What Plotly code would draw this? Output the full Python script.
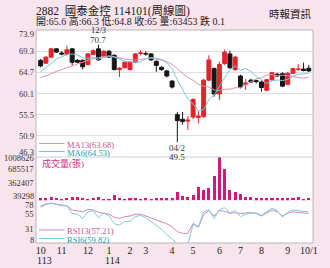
import plotly.graph_objects as go

# ---------------- data ----------------
idx = list(range(52))
opens  = [67.3, 66.7, 68.0, 69.8, 68.9, 68.6, 69.8, 67.3, 67.3, 66.4, 68.6, 69.8, 68.2, 69.3, 68.4, 65.3,
          65.7, 65.3, 66.9, 68.8, 68.8, 68.7, 67.1, 65.8, 65.0, 62.8, 55.5, 54.5, 54.1, 55.0, 54.9, 55.1,
          63.0, 65.5, 60.0, 66.6, 68.7, 65.3, 63.9, 62.1, 63.0, 62.9, 62.6, 60.8, 63.1, 64.3, 64.4, 62.1,
          64.5, 65.3, 65.4, 65.6]
highs  = [67.6, 68.2, 70.0, 70.0, 69.3, 70.5, 70.0, 67.6, 67.5, 68.9, 69.7, 70.7, 69.5, 69.5, 68.6, 65.8,
          67.1, 67.1, 68.9, 69.5, 69.3, 68.9, 67.3, 66.0, 65.2, 63.0, 56.1, 56.1, 55.2, 59.1, 56.3, 63.3,
          68.4, 65.8, 67.0, 69.7, 69.4, 68.3, 64.2, 63.3, 63.3, 63.1, 62.9, 63.3, 64.8, 64.6, 64.7, 64.8,
          65.7, 66.5, 66.8, 66.3]
lows   = [65.8, 66.5, 67.8, 68.9, 68.4, 68.4, 66.2, 66.7, 65.3, 66.2, 68.4, 67.2, 68.0, 67.8, 65.1, 63.7,
          65.5, 65.1, 66.7, 68.4, 68.3, 67.2, 64.8, 65.0, 63.6, 61.2, 49.5, 53.3, 52.2, 54.5, 53.6, 54.8,
          62.8, 59.4, 58.7, 66.3, 65.5, 65.0, 61.2, 60.9, 62.4, 62.3, 60.5, 60.6, 62.9, 63.7, 61.5, 61.9,
          64.3, 65.1, 64.9, 64.8]
closes = [66.1, 68.0, 69.8, 69.1, 68.7, 69.6, 66.9, 66.9, 65.9, 68.7, 69.4, 67.4, 69.3, 68.0, 65.3, 65.6,
          66.9, 66.9, 68.7, 68.9, 68.7, 67.4, 66.2, 65.3, 63.9, 61.5, 54.2, 54.0, 54.3, 58.8, 55.2, 63.0,
          67.4, 60.0, 66.4, 69.1, 65.7, 68.0, 61.5, 62.4, 62.6, 62.7, 61.4, 63.1, 64.6, 63.9, 61.7, 64.5,
          65.5, 65.4, 65.1, 65.0]
volume = [45000, 45000, 70000, 55000, 40000, 55000, 85000, 70000, 55000, 40000, 55000, 85000, 40000,
          39298, 120000, 55000, 40000, 45000, 45000, 42000, 45000, 42000, 45000, 45000, 45000, 45000,
          198000, 99000, 84000, 122000, 312000, 251000, 296000, 555000, 1008626, 730000, 236000, 198000,
          137000, 84000, 84000, 45000, 45000, 45000, 45000, 45000, 45000, 45000, 55000, 70000, 40000, 63453]
ma6  = [64.8, 65.8, 66.8, 67.6, 68.1, 68.55, 68.68, 68.5, 67.85, 67.78, 67.9, 67.53, 67.93, 68.12, 68.02,
        67.5, 67.08, 67.0, 66.9, 67.05, 67.62, 67.92, 67.8, 67.53, 66.73, 65.5, 63.08, 60.85, 58.87, 57.78,
        56.33, 56.58, 58.78, 59.78, 61.8, 63.52, 65.27, 66.1, 65.12, 65.52, 64.88, 63.82, 63.1, 62.28, 62.8,
        63.05, 62.9, 63.2, 63.88, 64.27, 64.35, 64.53]
ma13 = [63.5, 63.9, 64.4, 64.9, 65.3, 65.8, 66.2, 66.6, 66.9, 67.3, 67.7, 67.9, 68.14, 68.28, 68.08, 67.75,
        67.58, 67.45, 67.38, 67.53, 67.67, 67.78, 67.59, 67.28, 67.01, 66.41, 65.35, 64.48, 63.61, 62.98,
        62.08, 61.65, 61.53, 60.86, 60.78, 61.01, 61.04, 61.35, 61.35, 61.98, 62.65, 63.29, 63.49, 64.1,
        64.22, 63.95, 64.08, 63.94, 63.66, 63.64, 63.42, 63.68]
rsi6  = [67.5, 72, 75, 72, 70, 70, 57, 56, 49, 60, 62, 50, 58, 53, 40, 38, 44, 44, 52, 54, 50, 44, 38, 31,
         22, 15, 5, 4, 5, 39, 34, 60, 63, 49, 64, 67, 58, 62, 52, 56, 58, 58, 54, 60, 66, 62, 51, 60, 63,
         62, 61, 59.82]
rsi13 = [69.7, 73, 74, 73, 71.3, 70, 63, 61, 60, 64, 63, 59, 58, 56, 51, 49, 51.8, 53, 56, 56, 53, 50, 47,
         44, 40, 35, 27, 24, 24, 40.7, 35, 55, 62, 53, 62, 61, 57.4, 58.5, 57, 58, 58.5, 57, 53, 58, 63,
         60, 53, 57.4, 60, 59, 58.5, 57.21]

price_ticks = [73.9, 69.3, 64.7, 60.1, 55.5, 50.9, 46.3]
vol_ticks = [1008626, 685517, 362407, 39298]
rsi_ticks = [78, 55, 31, 8]
month_pos = [0, 4, 9, 13, 17, 20, 25, 29, 34, 38, 42, 47, 51]
month_labels = ["10", "11", "12", "1", "2", "3", "4", "5", "6", "7", "8", "9", "10/1"]
year_pos = [0, 13]
year_labels = ["113", "114"]

# ---------------- styling ----------------
W, H = 330, 268
ML, MR, MT, MB = 36, 13, 30, 25
PW, PH = W - ML - MR, H - MT - MB
BOT = MT + PH


def py(ypix):
    return (BOT - ypix) / PH


def px(xpix):
    return (xpix - ML) / PW


SERIF = "Liberation Serif, 'Noto Sans CJK TC', serif"
RED, BLK = "#e3232b", "#161616"
MA13_C, MA6_C = "#e48db5", "#72c7da"
TXT_PINK, TXT_TEAL = "#d24a8c", "#1b9db0"
VOL_C = "#d6177a"
BG = "#f8e4ec"

dom_price = [py(157), 1.0]
dom_vol = [py(200.3), py(157)]
dom_rsi = [0.0, py(201)]
xr = [-0.88, 51.8]

fig = go.Figure()
fig.add_trace(go.Candlestick(
    x=idx, open=opens, high=highs, low=lows, close=closes,
    increasing=dict(fillcolor=RED, line=dict(color=RED, width=1)),
    decreasing=dict(fillcolor=BLK, line=dict(color=BLK, width=1)),
    whiskerwidth=0, xaxis="x", yaxis="y", hoverinfo="skip", showlegend=False))
fig.add_trace(go.Scatter(x=idx, y=ma13, mode="lines", line=dict(color=MA13_C, width=1),
                         xaxis="x", yaxis="y", hoverinfo="skip", showlegend=False))
fig.add_trace(go.Scatter(x=idx, y=ma6, mode="lines", line=dict(color=MA6_C, width=1),
                         xaxis="x", yaxis="y", hoverinfo="skip", showlegend=False))
fig.add_trace(go.Bar(x=idx, y=volume, marker=dict(color=VOL_C, line=dict(width=0)), width=0.58,
                     xaxis="x2", yaxis="y2", hoverinfo="skip", showlegend=False))
fig.add_trace(go.Scatter(x=idx, y=rsi13, mode="lines", line=dict(color="#d983b0", width=1),
                         xaxis="x3", yaxis="y3", hoverinfo="skip", showlegend=False))
fig.add_trace(go.Scatter(x=idx, y=rsi6, mode="lines", line=dict(color="#80cbdc", width=1),
                         xaxis="x3", yaxis="y3", hoverinfo="skip", showlegend=False))

ax_common = dict(range=xr, showgrid=False, zeroline=False, showline=False, fixedrange=True)
fig.update_layout(
    width=W, height=H, margin=dict(l=ML, r=MR, t=MT, b=MB),
    paper_bgcolor=BG, plot_bgcolor="white", showlegend=False,
    boxgap=0.25, boxgroupgap=0, bargap=0,
    font=dict(family=SERIF, size=9, color="#333"),
    xaxis=dict(domain=[0, 1], anchor="y", showticklabels=False, ticks="",
               rangeslider=dict(visible=False), **ax_common),
    xaxis2=dict(domain=[0, 1], anchor="y2", matches="x", showticklabels=False, ticks="", **ax_common),
    xaxis3=dict(domain=[0, 1], anchor="y3", matches="x", tickmode="array", tickvals=month_pos,
                ticktext=month_labels, ticks="", tickfont=dict(family=SERIF, size=10, color="#222"),
                **ax_common),
    yaxis=dict(domain=dom_price, range=[46.3, 73.9], tickmode="array", tickvals=price_ticks,
               showticklabels=False, showgrid=True, gridcolor="#dedede", gridwidth=1,
               zeroline=False, fixedrange=True),
    yaxis2=dict(domain=dom_vol, range=[0, vol_ticks[0]], tickmode="array", tickvals=vol_ticks,
                showticklabels=False, showgrid=False, zeroline=False, fixedrange=True),
    yaxis3=dict(domain=dom_rsi, range=[rsi_ticks[-1], rsi_ticks[0]], tickmode="array",
                tickvals=rsi_ticks, showticklabels=False, showgrid=False, zeroline=False, fixedrange=True),
)

ann = []
shapes = []


def txt(**kw):
    kw.setdefault("showarrow", False)
    kw.setdefault("borderpad", 0)
    ann.append(kw)


# y-axis labels (outer labels nudged inward like the original)
def add_labels(ticks, yref, shifts):
    for v, s in zip(ticks, shifts):
        txt(x=0, xref="paper", xanchor="right", xshift=-1, y=v, yref=yref,
            yanchor="middle", yshift=s, text=str(v),
            font=dict(family=SERIF, size=8.5, color="#333"))


add_labels(price_ticks, "y", [-4, 0, 0, 0, 0, 0, 5.5])
add_labels(vol_ticks, "y2", [-0.5, 2, 1.5, 2.5])
add_labels(rsi_ticks, "y3", [-4, 0.5, 0, 3.5])

# year labels under months
for p, t in zip(year_pos, year_labels):
    txt(x=p, xref="x3", xshift=4, y=py(260), yref="paper", yanchor="middle",
        text=t, font=dict(family=SERIF, size=10, color="#222"))

# high / low call-outs
hi_i = highs.index(max(highs))
lo_i = lows.index(min(lows))
txt(x=hi_i, xref="x", y=highs[hi_i], yref="y", yanchor="bottom", yshift=-1,
    text=f"{highs[hi_i]:.1f}", font=dict(family=SERIF, size=9, color="#333"))
txt(x=hi_i, xref="x", y=highs[hi_i], yref="y", yanchor="bottom", yshift=8.5,
    text="12/3", font=dict(family=SERIF, size=8.5, color="#333"))
txt(x=lo_i, xref="x", y=lows[lo_i], yref="y", yanchor="top", yshift=0,
    text="04/2", font=dict(family=SERIF, size=9, color="#333"))
txt(x=lo_i, xref="x", y=lows[lo_i], yref="y", yanchor="top", yshift=-9,
    text=f"{lows[lo_i]:.1f}", font=dict(family=SERIF, size=9, color="#333"))


# legends
def legend_item(ypix, color_line, color_txt, text):
    shapes.append(dict(type="line", xref="paper", yref="paper", x0=px(39), x1=px(65),
                       y0=py(ypix - 1), y1=py(ypix - 1), line=dict(color=color_line, width=1)))
    txt(x=px(66), xref="paper", xanchor="left", y=py(ypix), yref="paper", yanchor="middle",
        text=text, font=dict(family=SERIF, size=8.5, color=color_txt))


legend_item(144.5, MA13_C, TXT_PINK, f"MA13({ma13[-1]:.2f})")
legend_item(152.5, MA6_C, TXT_TEAL, f"MA6({ma6[-1]:.2f})")
legend_item(231, "#d983b0", TXT_PINK, f"RSI13({rsi13[-1]:.2f})")
legend_item(239.5, "#80cbdc", TXT_TEAL, f"RSI6({rsi6[-1]:.2f})")
txt(x=px(41), xref="paper", xanchor="left", y=py(163.5), yref="paper", yanchor="middle",
    text="成交量(張)", font=dict(family=SERIF, size=9, color="#cf2f80"))

# header texts
txt(x=px(35), xref="paper", xanchor="left", y=py(11.5), yref="paper", yanchor="middle",
    text="2882  國泰金控 114101(周線圖)", font=dict(family=SERIF, size=11.5, color="#222"))
txt(x=px(35), xref="paper", xanchor="left", y=py(21.5), yref="paper", yanchor="middle",
    text=f"開:{opens[-1]} 高:{highs[-1]} 低:{lows[-1]} 收:{closes[-1]:g} 量:{volume[-1]} 跌 0.1",
    font=dict(family=SERIF, size=10, color="#222"))
txt(x=px(317), xref="paper", xanchor="right", y=py(13.5), yref="paper", yanchor="middle",
    text="時報資訊", font=dict(family=SERIF, size=10.5, color="#222"))

# frame
shapes.append(dict(type="rect", xref="paper", yref="paper", x0=0, x1=1, y0=0, y1=1,
                   line=dict(color="#b8b8b8", width=1)))
shapes.append(dict(type="line", xref="paper", yref="paper", x0=0, x1=1, y0=dom_price[0], y1=dom_price[0],
                   line=dict(color="#cfcfcf", width=1)))

fig.update_layout(annotations=ann, shapes=shapes)
fig.write_html("out.html", config={"displayModeBar": False})
